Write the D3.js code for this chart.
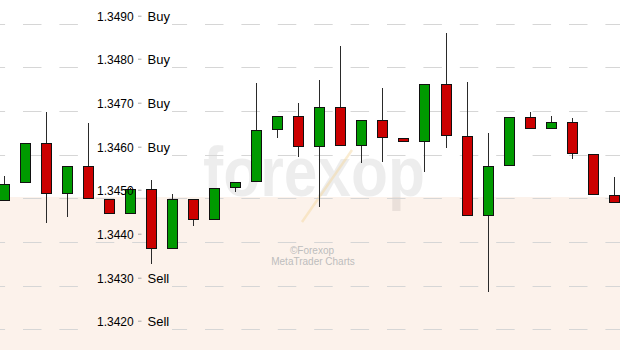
<!DOCTYPE html>
<html>
<head>
<meta charset="utf-8">
<script src="https://cdn.jsdelivr.net/npm/d3@7"></script>
<style>
  html, body { margin: 0; padding: 0; background: #fff; }
  svg { display: block; }
</style>
</head>
<body>
<script>
// OHLC, oldest bar first
const opens  = [1.34495, 1.34537, 1.34627, 1.34512, 1.34574, 1.34499, 1.34465, 1.34522, 1.34386, 1.34499,
                1.34451, 1.34525, 1.34538, 1.34657, 1.34689, 1.34618, 1.34709, 1.34621, 1.34680, 1.34639,
                1.34630, 1.34762, 1.34644, 1.34461, 1.34574, 1.34687, 1.34660, 1.34675, 1.34603, 1.34509]
const highs  = [1.34552, 1.34627, 1.34698, 1.34574, 1.34673, 1.34499, 1.34524, 1.34543, 1.34511, 1.34499,
                1.34525, 1.34538, 1.34766, 1.34689, 1.34720, 1.34772, 1.34850, 1.34680, 1.34753, 1.34639,
                1.34762, 1.34879, 1.34767, 1.34650, 1.34687, 1.34699, 1.34689, 1.34685, 1.34603, 1.34549]
const lows   = [1.34495, 1.34537, 1.34444, 1.34458, 1.34499, 1.34465, 1.34465, 1.34351, 1.34386, 1.34438,
                1.34451, 1.34516, 1.34538, 1.34638, 1.34595, 1.34482, 1.34621, 1.34581, 1.34584, 1.34630,
                1.34562, 1.34616, 1.34461, 1.34286, 1.34574, 1.34660, 1.34660, 1.34591, 1.34509, 1.34490]
const closes = [1.34535, 1.34627, 1.34512, 1.34574, 1.34499, 1.34465, 1.34522, 1.34386, 1.34499, 1.34451,
                1.34525, 1.34538, 1.34657, 1.34689, 1.34618, 1.34709, 1.34621, 1.34680, 1.34638, 1.34630,
                1.34762, 1.34644, 1.34461, 1.34574, 1.34687, 1.34660, 1.34675, 1.34603, 1.34509, 1.34490]

// price levels with their signal text
const levels  = [1.3490, 1.3480, 1.3470, 1.3460, 1.3450, 1.3440, 1.3430, 1.3420]
const signals = ['Buy', 'Buy', 'Buy', 'Buy', '', '', 'Sell', 'Sell']
const sellZoneTop = 1.34504

const width = 620
const height = 350
const font = '"Liberation Sans", Arial, sans-serif'
const bg = '#ffffff'
const zoneFill = '#fcf2eb'

const svg = d3.select('body')
  .append('svg')
  .attr('width', width)
  .attr('height', height)
  .attr('viewBox', `0 0 ${width} ${height}`)

const x = d3.scalePoint()
  .domain(d3.range(opens.length))
  .range([4.5, 614.2])

const y = d3.scaleLinear()
  .domain([1.3420, 1.3490])
  .range([329.9, 24])

const crisp = v => Math.floor(v) + 0.5

// background + sell zone
svg.append('rect')
  .attr('width', width).attr('height', height).attr('fill', bg)

const zoneY = Math.round(y(sellZoneTop))
svg.append('rect')
  .attr('x', 0).attr('y', zoneY)
  .attr('width', width).attr('height', height - zoneY)
  .attr('fill', zoneFill)

// watermark
const wm = svg.append('g')
wm.append('text')
  .attr('x', 203).attr('y', 196)
  .attr('font-family', font)
  .attr('font-weight', 'bold')
  .attr('font-size', 70)
  .attr('textLength', 222)
  .attr('lengthAdjust', 'spacingAndGlyphs')
  .attr('fill', '#000')
  .attr('fill-opacity', 0.07)
  .text('forexop')
wm.append('line')
  .attr('x1', 302).attr('y1', 222)
  .attr('x2', 352).attr('y2', 150)
  .attr('stroke', '#f3d49a')
  .attr('stroke-opacity', 0.45)
  .attr('stroke-width', 2.5)
wm.append('text')
  .attr('x', 312).attr('y', 254)
  .attr('text-anchor', 'middle')
  .attr('font-family', font)
  .attr('font-size', 10)
  .attr('fill', '#bdbdbd')
  .text('©Forexop')
wm.append('text')
  .attr('x', 313).attr('y', 265)
  .attr('text-anchor', 'middle')
  .attr('font-family', font)
  .attr('font-size', 10)
  .attr('fill', '#bdbdbd')
  .text('MetaTrader Charts')

// dashed grid
svg.append('g')
  .selectAll('line')
  .data(levels)
  .join('line')
  .attr('x1', 0).attr('x2', width)
  .attr('y1', d => crisp(y(d)))
  .attr('y2', d => crisp(y(d)))
  .attr('stroke', '#d6d6d6')
  .attr('stroke-width', 1)
  .attr('stroke-dasharray', '18.5 17.9')
  .attr('stroke-dashoffset', 13.4)

// label backdrops hide the grid behind buy/sell labels
svg.append('g')
  .selectAll('rect')
  .data(levels.filter((d, i) => signals[i]))
  .join('rect')
  .attr('x', 79).attr('width', 93)
  .attr('y', d => Math.floor(y(d)) - 1)
  .attr('height', 3)
  .attr('fill', d => d < sellZoneTop ? zoneFill : bg)

// candles
const bars = d3.range(opens.length).map(i => ({
  i, o: opens[i], h: highs[i], l: lows[i], c: closes[i]
}))

const candle = svg.append('g')
  .selectAll('g')
  .data(bars)
  .join('g')

candle.append('line')
  .attr('x1', d => Math.round(x(d.i) - 5.5) + 5.5)
  .attr('x2', d => Math.round(x(d.i) - 5.5) + 5.5)
  .attr('y1', d => Math.round(y(d.h)))
  .attr('y2', d => Math.round(y(d.l)))
  .attr('stroke', '#2a2a2a')
  .attr('stroke-width', 1)

candle.append('rect')
  .attr('x', d => Math.round(x(d.i) - 5.5) + 0.5)
  .attr('width', 10)
  .attr('y', d => Math.round(y(Math.max(d.o, d.c))) + 0.5)
  .attr('height', d => Math.max(2, Math.round(y(Math.min(d.o, d.c))) - Math.round(y(Math.max(d.o, d.c))) - 1))
  .attr('fill', d => d.c >= d.o ? '#009a00' : '#cc0000')
  .attr('stroke', '#111')
  .attr('stroke-width', 1)

// level labels
const lab = svg.append('g')
  .selectAll('g')
  .data(levels)
  .join('g')
  .attr('transform', d => `translate(0, ${Math.floor(y(d)) - 3.3})`)

lab.append('text')
  .attr('x', 97)
  .attr('font-family', font)
  .attr('font-size', 12)
  .attr('fill', '#000')
  .text(d => d.toFixed(4))

lab.append('line')
  .attr('x1', 138).attr('x2', 141.5)
  .attr('y1', -4.5).attr('y2', -4.5)
  .attr('stroke', '#a8a8a8')
  .attr('stroke-width', 1)

lab.append('text')
  .attr('x', 147.5)
  .attr('font-family', font)
  .attr('font-size', 13)
  .attr('fill', '#000')
  .text((d, i) => signals[i])
</script>
</body>
</html>
